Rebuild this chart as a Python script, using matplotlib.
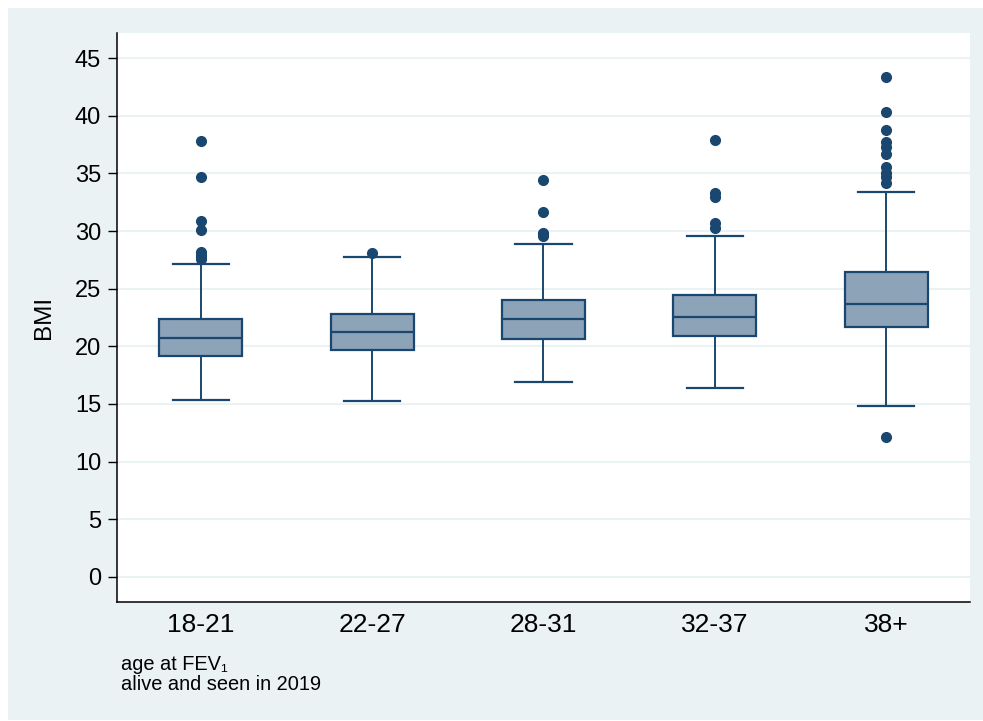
import matplotlib
matplotlib.use("Agg")
import matplotlib.pyplot as plt
from matplotlib.patches import Rectangle

plt.rcParams['font.family'] = ['Liberation Sans', 'DejaVu Sans']

# BMI by age group at FEV1
groups = ["18-21", "22-27", "28-31", "32-37", "38+"]
q1 = [19.19, 19.66, 20.64, 20.90, 21.70]
medians = [20.69, 21.22, 22.37, 22.52, 23.67]
q3 = [22.37, 22.80, 24.05, 24.45, 26.47]
whislo = [15.35, 15.23, 16.88, 16.42, 14.85]
whishi = [27.17, 27.77, 28.87, 29.54, 33.41]
outliers = [
    [37.78, 34.68, 30.87, 30.09, 28.18, 27.9, 27.77, 27.55],
    [28.09],
    [34.39, 31.62, 29.86, 29.7, 29.57],
    [37.89, 33.32, 32.98, 30.72, 30.29],
    [43.38, 40.32, 38.76, 37.75, 37.26, 36.65, 35.52, 35.06, 34.71, 34.19, 12.17],
]
yticks = list(range(0, 50, 5))

navy = "#1a476f"
box_fill = "#8da3b8"
panel = "#eaf2f3"

fig = plt.figure(figsize=(9.83, 7.21), dpi=100, facecolor="white")
fig.patches.append(Rectangle((8 / 983, 1 / 721), 975 / 983, 712 / 721,
                             transform=fig.transFigure, facecolor=panel,
                             edgecolor="none", zorder=-10))

ax = fig.add_axes([117 / 983, 1 - 602 / 721, 853 / 983, 569 / 721])
ax.set_facecolor("white")
ax.set_zorder(1)

stats = []
for i, name in enumerate(groups):
    stats.append({"label": name, "q1": q1[i], "med": medians[i], "q3": q3[i],
                  "whislo": whislo[i], "whishi": whishi[i], "fliers": outliers[i]})

ax.bxp(stats, positions=range(len(groups)), widths=0.485, patch_artist=True,
       showfliers=True,
       boxprops=dict(facecolor=box_fill, edgecolor=navy, linewidth=1.6),
       medianprops=dict(color=navy, linewidth=1.6),
       whiskerprops=dict(color=navy, linewidth=1.4),
       capprops=dict(color=navy, linewidth=1.6),
       capwidths=0.33,
       flierprops=dict(marker="o", markerfacecolor=navy, markeredgecolor=navy,
                       markersize=7, linestyle="none"))

ax.set_xlim(-0.49, 4.49)
ax.set_ylim(-2.17, 47.17)
ax.set_yticks(yticks)
ax.set_xticks(range(len(groups)))
ax.set_xticklabels(groups, fontsize=19)
ax.tick_params(axis="y", labelsize=17, length=6.5, width=1, pad=5)
ax.tick_params(axis="x", length=0, pad=8)
ax.yaxis.grid(True, color=panel, linewidth=1.5)
ax.set_axisbelow(True)

for side in ["top", "right"]:
    ax.spines[side].set_visible(False)
for side in ["left", "bottom"]:
    ax.spines[side].set_color("black")
    ax.spines[side].set_linewidth(1.1)

ax.set_ylabel("BMI", fontsize=17.5, labelpad=14)

fig.text(121 / 983, 1 - 665 / 721, "age at FEV\u2081", fontsize=14.4, va="center")
fig.text(121 / 983, 1 - 684 / 721, "alive and seen in 2019", fontsize=14.4, va="center")

fig.savefig("out.png", dpi=100, facecolor=fig.get_facecolor())
